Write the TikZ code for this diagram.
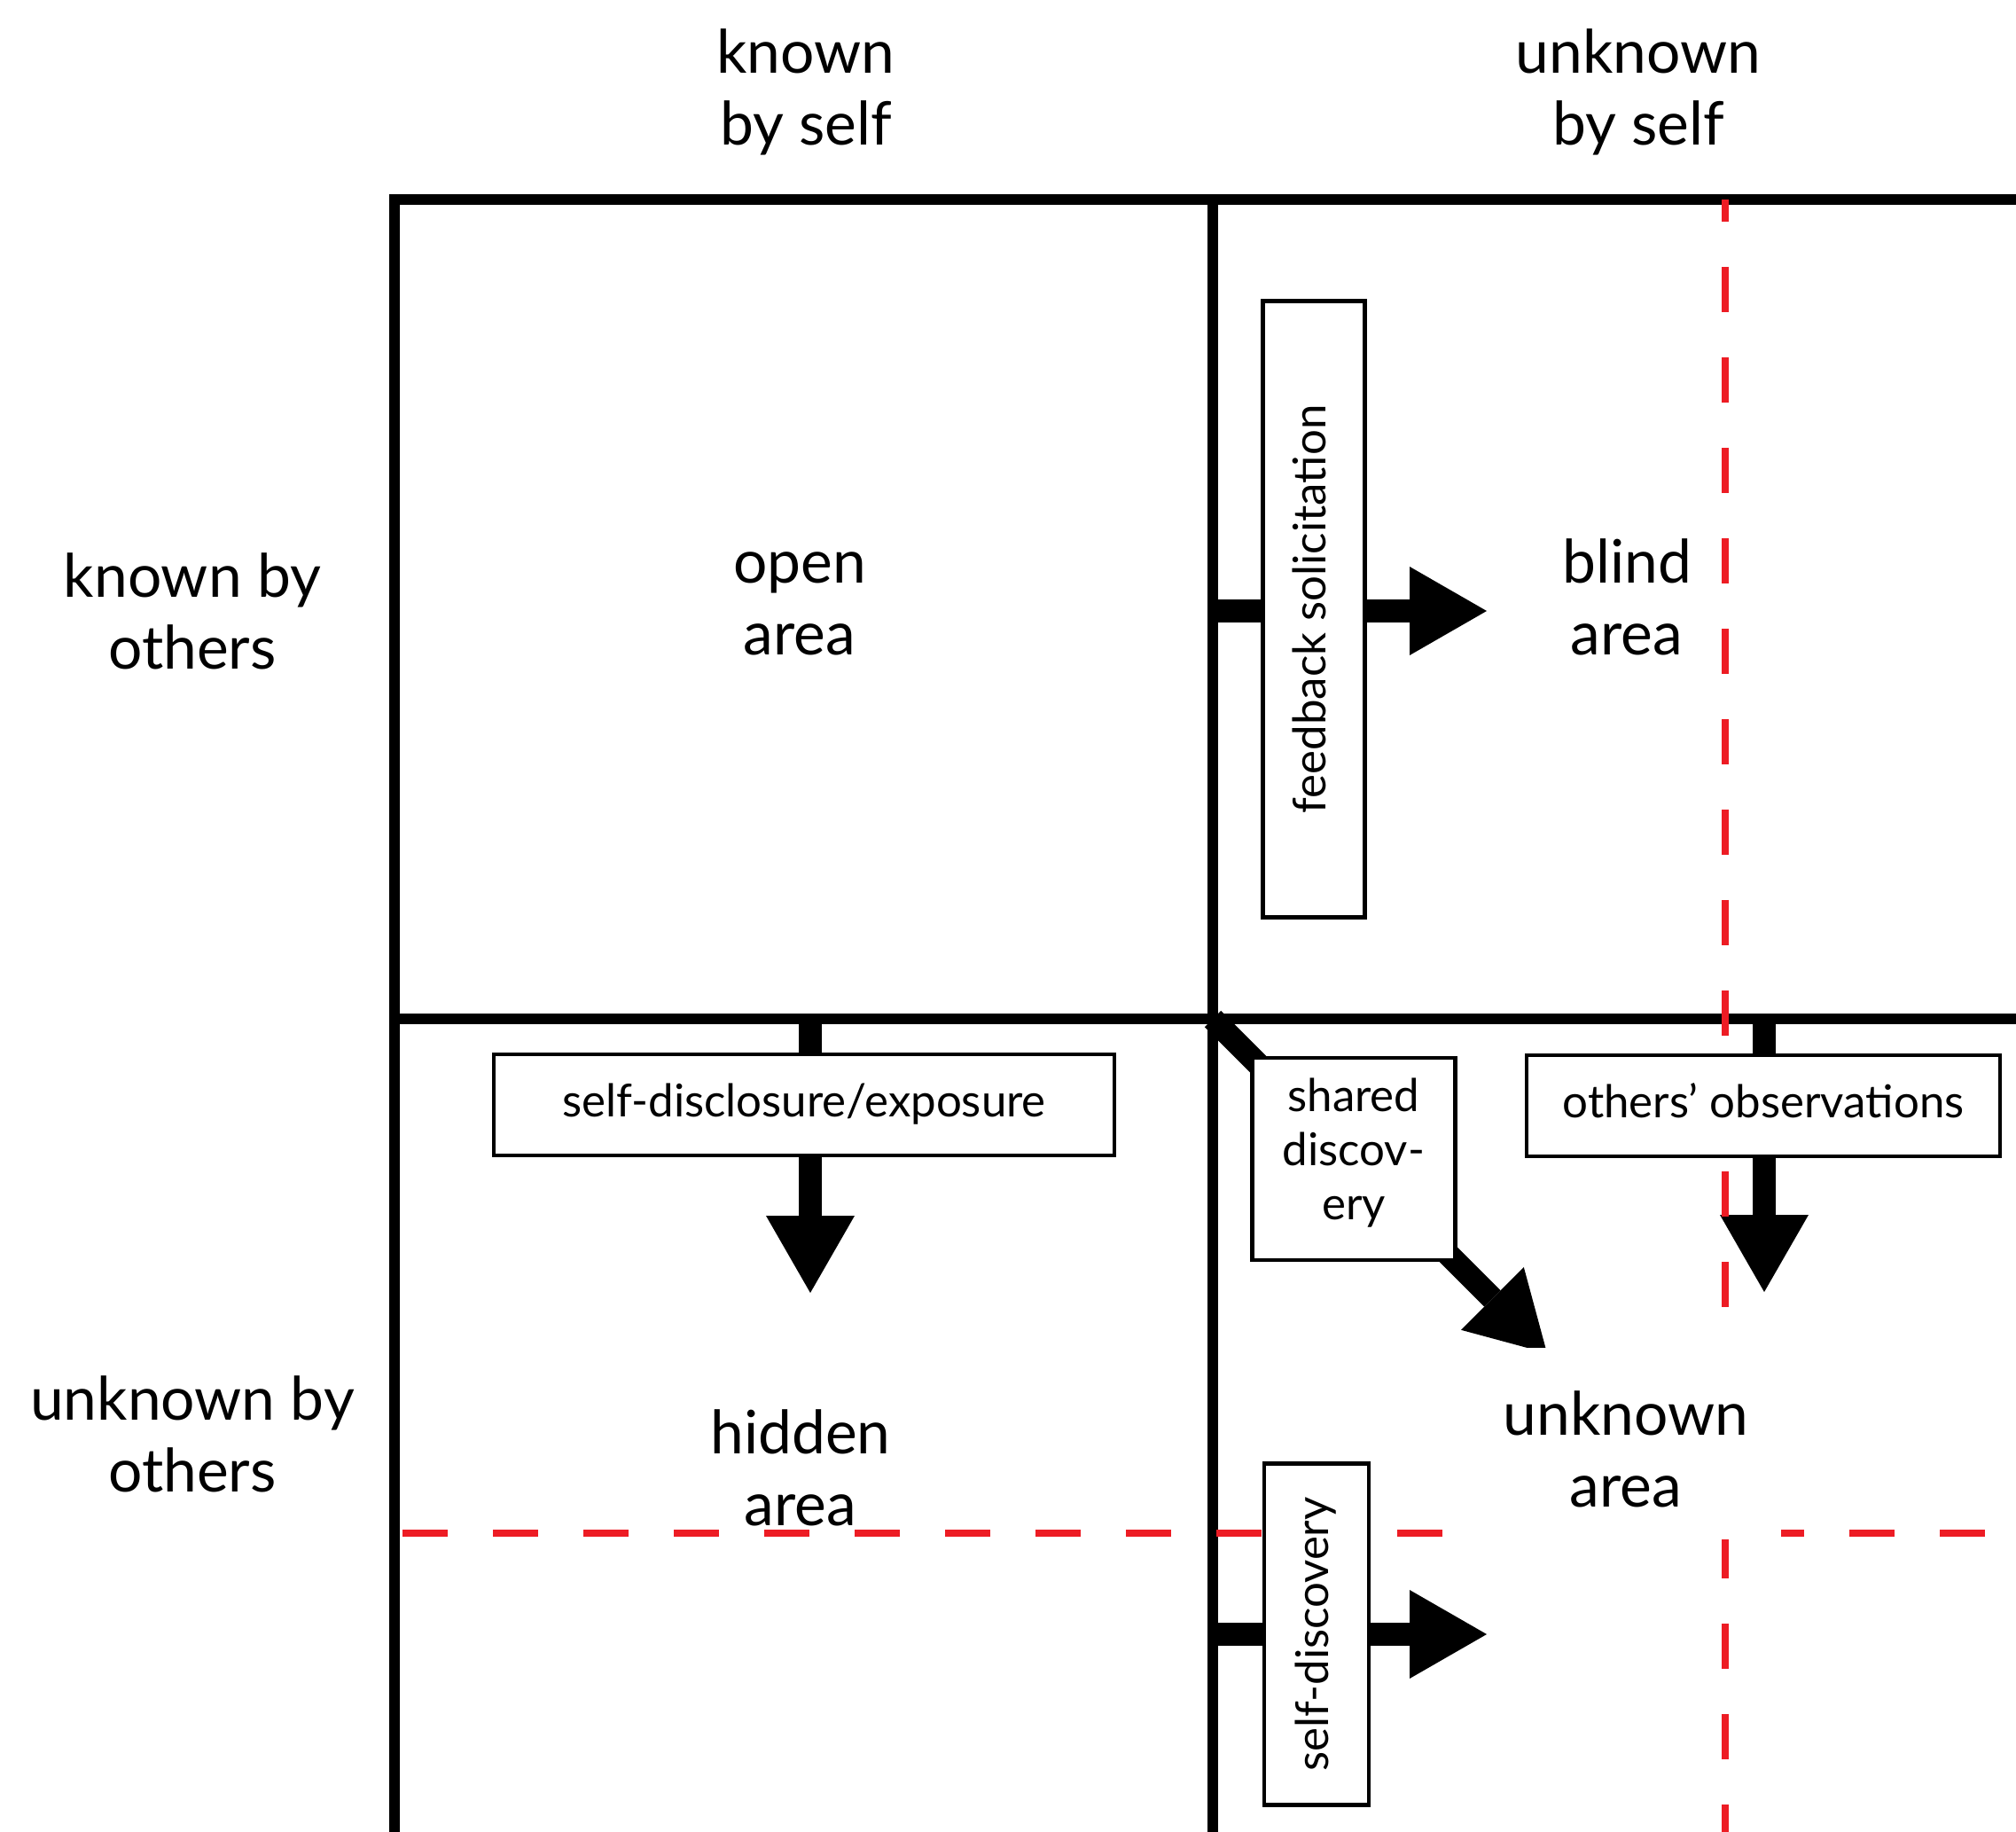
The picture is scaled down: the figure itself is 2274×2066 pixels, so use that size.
\documentclass[tikz,border=0pt]{standalone}
\usepackage{fontspec}
\setmainfont{Lato}
\usetikzlibrary{arrows.meta}
\definecolor{jred}{RGB}{237,28,36}
\newcommand{\twoline}[2]{\begin{tabular}[t]{@{}c@{}}#1\\#2\end{tabular}}
\begin{document}
\begin{tikzpicture}[x=0.3pt,y=-0.3pt,
  frameline/.style={line width=3.75pt, line join=miter},
  flowarrow/.style={line width=7.8pt, -{Triangle[length=26.1pt,width=30pt,line width=0pt]}},
  redguide/.style={draw=jred, line width=2.55pt, dash pattern=on 15.3pt off 15.3pt},
  biglabel/.style={font=\fontsize{20.3}{24.3}\selectfont, inner sep=0pt, anchor=base},
  tbox/.style={draw, line width=1.3pt, fill=white, font=\fontsize{15.3}{18.3}\selectfont, inner sep=0pt, align=center},
  onebox/.style={tbox, text height=11.1pt, text depth=3pt},
]
\fill[white] (0,0) rectangle (2274,2066);
\useasboundingbox (0,0) rectangle (2274,2066);

% grid
\coordinate (tl) at (445,225);
\coordinate (tr) at (2274,225);
\coordinate (bl) at (445,2066);
\coordinate (mt) at (1368,225);
\coordinate (mb) at (1368,2066);
\coordinate (ml) at (445,1149);
\coordinate (mr) at (2274,1149);
\draw[frameline] (tr) -- (tl) -- (bl);
\draw[frameline] (mt) -- (mb);
\draw[frameline] (ml) -- (mr);

% arrows
\coordinate (fbS) at (1368,689);
\coordinate (fbT) at (1677,689);
\coordinate (sdS) at (914,1149);
\coordinate (sdT) at (914,1458);
\coordinate (shS) at (1368,1149);
\coordinate (shT) at (1745,1526);
\coordinate (obS) at (1990,1149);
\coordinate (obT) at (1990,1457);
\coordinate (sfS) at (1368,1843);
\coordinate (sfT) at (1677,1843);
\draw[flowarrow] (fbS) -- (fbT);
\draw[flowarrow] (sdS) -- (sdT);
\draw[flowarrow] (shS) -- (shT);
\draw[flowarrow] (obS) -- (obT);
\draw[flowarrow] (sfS) -- (sfT);

% red dashed guides
\coordinate (rvT) at (1946,225);
\coordinate (rvB) at (1946,2066);
\coordinate (rhL) at (454,1729);
\coordinate (rhR) at (2274,1729);
\draw[redguide, dash phase=7.8pt] (rvT) -- (rvB);
\draw[redguide] (rhL) -- (rhR);

% boxes
\node[onebox, minimum width=208.5pt, minimum height=34.5pt, rotate=90] (feedback) at (1482,687) {feedback solicitation};
\node[onebox, minimum width=210pt, minimum height=34.2pt] (disclosure) at (907,1246) {self-disclosure/exposure};
\node[tbox, minimum width=68.7pt, minimum height=68.4pt] (shared) at (1527,1307) {shared\\discov-\\ery\rule[-6.6pt]{0pt}{0pt}};
\node[onebox, minimum width=160.2pt, minimum height=34.2pt] (observ) at (1989,1247) {others’ observations};
\node[onebox, minimum width=115.5pt, minimum height=35.4pt, rotate=90] (selfdisc) at (1485,1843) {self-discovery};

% labels
\fill[white] (1659,1520) rectangle (2009,1736);
\node[biglabel] (unknownA) at (1834,1618) {\twoline{unknown}{area}};
\node[biglabel] (hKnown) at (909,83) {\twoline{known}{by self}};
\node[biglabel] (hUnknown) at (1848,83) {\twoline{unknown}{by self}};
\node[biglabel] (lKnown) at (217,673) {\twoline{known by}{others}};
\node[biglabel] (lUnknown) at (217,1601) {\twoline{unknown by}{others}};
\node[biglabel] (openA) at (902,657) {\twoline{open}{area}};
\node[biglabel] (blindA) at (1835,657) {\twoline{blind}{area}};
\node[biglabel] (hiddenA) at (903,1639) {\twoline{hidden}{area}};
\end{tikzpicture}
\end{document}
